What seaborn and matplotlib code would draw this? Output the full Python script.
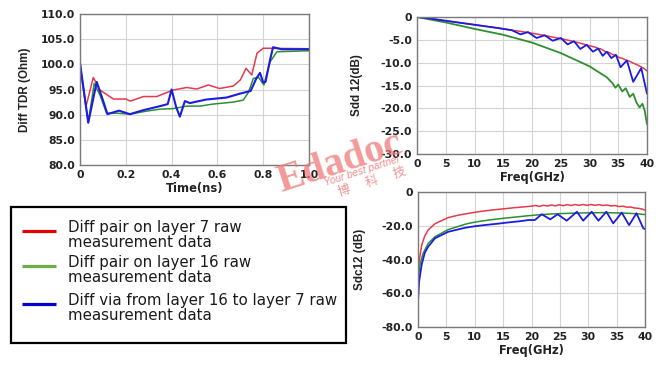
import matplotlib
matplotlib.use("Agg")
import matplotlib.pyplot as plt
import seaborn as sns
from matplotlib.lines import Line2D
from matplotlib.patches import Rectangle
from matplotlib.ticker import FixedLocator, FixedFormatter

# ---------------- data ----------------
legend_labels = ["Diff pair on layer 7 raw\nmeasurement data",
                 "Diff pair on layer 16 raw\nmeasurement data",
                 "Diff via from layer 16 to layer 7 raw\nmeasurement data"]

# TDR (time in ns, impedance in Ohm)
tdr_t_red = [0, 0.026, 0.058, 0.087, 0.146, 0.2, 0.22, 0.277, 0.335, 0.407, 0.466, 0.51, 0.56, 0.61,
             0.67, 0.70, 0.725, 0.75, 0.773, 0.80, 1.0]
tdr_red = [99.9, 91.6, 97.4, 94.9, 93.1, 93.1, 92.7, 93.6, 93.6, 94.9, 95.4, 95.1, 95.9, 95.2,
           95.7, 96.9, 99.2, 97.9, 102.2, 103.2, 103.1]
tdr_t_green = [0, 0.036, 0.062, 0.087, 0.116, 0.16, 0.218, 0.29, 0.35, 0.407, 0.466, 0.524, 0.58,
               0.67, 0.713, 0.735, 0.757, 0.78, 0.803, 0.83, 0.86, 1.0]
tdr_green = [99.9, 88.4, 96.2, 93.9, 90.3, 90.3, 90.1, 90.7, 91.1, 91.2, 91.7, 91.7, 92.1,
             92.5, 92.9, 94.4, 97.2, 97.4, 95.9, 100.5, 102.5, 102.7]
tdr_t_blue = [0, 0.036, 0.073, 0.10, 0.12, 0.17, 0.218, 0.277, 0.35, 0.383, 0.40, 0.42, 0.436,
              0.458, 0.48, 0.55, 0.64, 0.70, 0.745, 0.77, 0.786, 0.80, 0.81, 0.83, 0.843, 0.88, 1.0]
tdr_blue = [100.3, 88.4, 96.5, 92.9, 90.1, 90.8, 90.1, 90.9, 91.7, 92.1, 95.0, 91.5, 89.6,
            92.7, 92.3, 93.0, 93.4, 94.2, 94.7, 97.2, 98.3, 96.4, 96.5, 100.9, 103.4, 103.0, 103.0]

# Sdd12 (GHz, dB)
sdd_f_red = [0, 2, 4, 6, 8, 10, 12, 14, 16, 18, 20, 22, 24, 26, 28, 30, 31, 31.5, 32, 32.8, 33.3, 34,
             34.6, 35.2, 35.8, 36.4, 37, 37.6, 38.2, 38.8, 39.4, 40]
sdd_red = [0, -0.3, -0.65, -1.0, -1.35, -1.7, -2.05, -2.4, -2.8, -3.15, -3.55, -4.0, -4.5, -5.0, -5.6,
           -6.3, -6.6, -6.9, -7.0, -7.6, -7.7, -8.2, -8.4, -8.9, -9.1, -9.5, -9.7, -10.1, -10.4, -10.8,
           -11.2, -11.8]
sdd_f_green = [0, 5, 10, 15, 20, 25, 30, 33, 34, 34.5, 35, 35.7, 36.3, 37, 37.6, 38.2, 38.7, 39.2,
               39.6, 40]
sdd_green = [0, -1.2, -2.6, -3.9, -5.6, -7.9, -10.8, -13.2, -14.5, -15.5, -14.8, -16.3, -15.6, -17.5,
             -16.8, -18.8, -19.8, -19.0, -20.5, -23.5]
sdd_f_blue = [0, 2, 4, 6, 8, 10, 12, 14, 16.5, 18, 19.3, 20.8, 22.2, 23.6, 25, 26.2, 27.3, 28.4, 29.5,
              30.6, 31.5, 32.3, 33, 33.8, 34.6, 35.4, 36.5, 37.6, 39, 40]
sdd_blue = [0, -0.3, -0.65, -1.0, -1.35, -1.7, -2.05, -2.4, -2.9, -3.8, -3.3, -4.6, -4.0, -5.2, -4.6,
            -6.0, -5.3, -7.0, -6.1, -7.6, -6.9, -8.5, -7.6, -9.0, -8.3, -11.0, -9.5, -14.2, -11.2, -16.8]

# Sdc12 (GHz, dB)
sdc_f_red = [0, 0.2, 0.65, 1.2, 1.8, 3, 5.3, 7, 9, 11, 13, 15, 17, 19, 20, 20.7, 21.4, 22.1, 22.8,
             23.5, 24.2, 24.9, 25.6, 26.3, 27, 27.7, 28.4, 29.1, 29.8, 30.5, 31.2, 31.9, 32.6, 33.3,
             34, 34.7, 35.4, 36.1, 36.8, 37.5, 38.2, 38.9, 39.6, 40]
sdc_red = [-48, -41, -31.4, -26, -22.5, -18.8, -15.2, -13.8, -12.6, -11.5, -10.7, -10.0, -9.3, -8.7,
           -8.4, -8.0, -8.5, -7.9, -8.3, -7.7, -8.2, -7.6, -8.1, -7.5, -8.0, -7.4, -7.9, -7.4, -7.9,
           -7.4, -7.9, -7.5, -8.0, -7.7, -8.3, -8.0, -8.6, -8.4, -9.0, -8.9, -9.5, -9.7, -10.2, -10.8]
sdc_f_green = [0, 0.35, 0.9, 1.8, 3, 5.3, 8.3, 9.2, 11, 13, 15, 17, 19, 21, 23, 25, 27, 29, 31, 33,
               35, 37, 39, 40]
sdc_green = [-52, -43, -36.3, -30.4, -26.5, -22.3, -19.1, -18.4, -17.3, -16.4, -15.6, -14.9, -14.2,
             -13.6, -13.1, -12.8, -12.6, -12.4, -12.3, -12.2, -12.4, -12.6, -13.0, -13.4]
sdc_f_blue = [0, 0.2, 0.65, 1.2, 1.8, 3, 5.3, 8.3, 10, 12, 14, 16, 18, 19.5, 20.6, 21.8, 23.3, 24.6,
              26.2, 28.0, 29.1, 30.6, 31.8, 33.2, 34.4, 35.9, 37.2, 38.5, 39.7, 40]
sdc_blue = [-65, -53, -43, -36, -32.4, -27.4, -23.6, -21.2, -20.3, -19.5, -18.8, -18.0, -17.3, -16.6,
            -16.6, -13.2, -16.2, -13.2, -17.0, -11.7, -17.0, -11.7, -17.0, -11.7, -18.6, -12.2, -19.6,
            -12.6, -21.5, -22.0]

tdr_xticks = [0, 0.2, 0.4, 0.6, 0.8, 1.0]
tdr_xticklabels = ["0", "0.2", "0.4", "0.6", "0.8", "1.0"]
tdr_yticks = [80, 85, 90, 95, 100, 105, 110]
tdr_yticklabels = ["80.0", "85.0", "90.0", "95.0", "100.0", "105.0", "110.0"]
f_ticks = [0, 5, 10, 15, 20, 25, 30, 35, 40]
f_ticklabels = ["0", "5", "10", "15", "20", "25", "30", "35", "40"]
sdd_yticks = [-30, -25, -20, -15, -10, -5, 0]
sdd_yticklabels = ["-30.0", "-25.0", "-20.0", "-15.0", "-10.0", "-5.0", "0"]
sdc_yticks = [-80, -60, -40, -20, 0]
sdc_yticklabels = ["-80.0", "-60.0", "-40.0", "-20.0", "0"]

# ---------------- style ----------------
sns.set_theme(style="whitegrid")
plt.rcParams['font.family'] = ['DejaVu Sans', 'Noto Sans CJK SC']

RED = "#e63a4c"
GREEN = "#2f8f2f"
BLUE = "#1c1ce0"
LEG_RED = "#e30000"
LEG_GREEN = "#70ad47"
LEG_BLUE = "#0000c8"

W, H = 659, 365
fig = plt.figure(figsize=(W / 100, H / 100), dpi=100)
fig.patch.set_facecolor("white")


def px_axes(x0, y0, x1, y1):
    return fig.add_axes([x0 / W, 1 - y1 / H, (x1 - x0) / W, (y1 - y0) / H])


ax1 = px_axes(80, 14, 309, 165)
ax2 = px_axes(417, 17, 647, 154)
ax3 = px_axes(418, 192, 645, 327)

tick_font = dict(family="DejaVu Sans", weight="bold", size=7.8)
xlab_font = dict(family="DejaVu Sans", weight="bold", size=8.3)
ylab_font = dict(family="Liberation Sans", weight="bold", size=8.4)


def style(ax, xt, xtl, yt, ytl, xlim, ylim, xlabel, ylabel, ylpad):
    ax.set_facecolor("white")
    ax.set_xlim(*xlim)
    ax.set_ylim(*ylim)
    ax.xaxis.set_major_locator(FixedLocator(xt))
    ax.xaxis.set_major_formatter(FixedFormatter(xtl))
    ax.yaxis.set_major_locator(FixedLocator(yt))
    ax.yaxis.set_major_formatter(FixedFormatter(ytl))
    for lab in ax.get_xticklabels() + ax.get_yticklabels():
        lab.set_fontfamily(tick_font["family"])
        lab.set_fontweight("bold")
        lab.set_fontsize(tick_font["size"])
        lab.set_color("#222222")
    ax.tick_params(axis="both", length=2, width=0.8, color="#555555", pad=1.5)
    ax.grid(True, color="#d4d4d4", linewidth=0.8)
    for s in ax.spines.values():
        s.set_color("#7a7a7a")
        s.set_linewidth(1.0)
    ax.set_xlabel(xlabel, fontdict=xlab_font, labelpad=1.5, color="#222222")
    ax.set_ylabel(ylabel, fontdict=ylab_font, labelpad=ylpad, color="#222222")


# TDR
sns.lineplot(x=tdr_t_red, y=tdr_red, ax=ax1, color=RED, lw=1.1, estimator=None, sort=False)
sns.lineplot(x=tdr_t_green, y=tdr_green, ax=ax1, color=GREEN, lw=1.1, estimator=None, sort=False)
sns.lineplot(x=tdr_t_blue, y=tdr_blue, ax=ax1, color=BLUE, lw=1.5, estimator=None, sort=False)
style(ax1, tdr_xticks, tdr_xticklabels, tdr_yticks, tdr_yticklabels, (0, 1.0), (80, 110),
      "Time(ns)", "Diff TDR (Ohm)", 7)

# Sdd12
sns.lineplot(x=sdd_f_red, y=sdd_red, ax=ax2, color=RED, lw=1.1, estimator=None, sort=False)
sns.lineplot(x=sdd_f_green, y=sdd_green, ax=ax2, color=GREEN, lw=1.3, estimator=None, sort=False)
sns.lineplot(x=sdd_f_blue, y=sdd_blue, ax=ax2, color=BLUE, lw=1.3, estimator=None, sort=False)
style(ax2, f_ticks, f_ticklabels, sdd_yticks, sdd_yticklabels, (0, 40), (-30, 0),
      "Freq(GHz)", "Sdd 12(dB)", 13)

# Sdc12
sns.lineplot(x=sdc_f_red, y=sdc_red, ax=ax3, color=RED, lw=1.1, estimator=None, sort=False)
sns.lineplot(x=sdc_f_green, y=sdc_green, ax=ax3, color=GREEN, lw=1.1, estimator=None, sort=False)
sns.lineplot(x=sdc_f_blue, y=sdc_blue, ax=ax3, color=BLUE, lw=1.3, estimator=None, sort=False)
style(ax3, f_ticks, f_ticklabels, sdc_yticks, sdc_yticklabels, (0, 40), (-80, 0),
      "Freq(GHz)", "Sdc12 (dB)", 11)

# ---------------- legend box (figure pixel coords) ----------------
def fx(px):
    return px / W


def fy(py):
    return 1 - py / H


fig.add_artist(Rectangle((fx(11), fy(343)), fx(346) - fx(11), fy(207) - fy(343),
                         transform=fig.transFigure, fill=False, edgecolor="black", linewidth=1.6))
leg_colors = [LEG_RED, LEG_GREEN, LEG_BLUE]
leg_line_y = [231, 266, 304]
leg_text_y = [220, 255, 293]
for lab, col, ly, ty in zip(legend_labels, leg_colors, leg_line_y, leg_text_y):
    fig.add_artist(Line2D([fx(22), fx(56)], [fy(ly), fy(ly)], transform=fig.transFigure,
                          color=col, linewidth=2.3, solid_capstyle="butt"))
    fig.text(fx(68), fy(ty), lab, family="DejaVu Sans", size=10.8, color="#1a1a1a",
             ha="left", va="top", linespacing=0.98)

# ---------------- watermark ----------------
wm = "#f07878"
fig.text(fx(340), fy(163), "Edadoc", family="Liberation Serif", weight="bold", size=29,
         color=wm, alpha=0.75, rotation=18, ha="center", va="center")
fig.text(fx(362), fy(171), "Your best partner", family="Liberation Sans", style="italic", size=7.5,
         color=wm, alpha=0.85, rotation=18, ha="center", va="center")
fig.text(fx(372), fy(182), "博      科      技", family=["Noto Sans CJK SC", "DejaVu Sans"], size=9,
         color=wm, alpha=0.8, rotation=18, ha="center", va="center")

fig.savefig("out.png", dpi=100, facecolor="white")
